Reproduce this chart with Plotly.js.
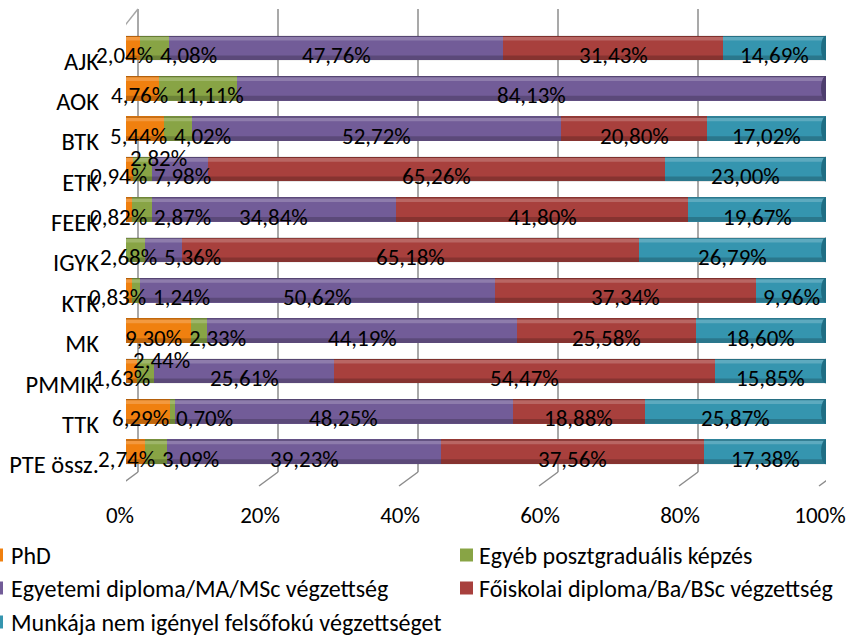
<!DOCTYPE html>
<html><head><meta charset="utf-8">
<script src="https://cdn.plot.ly/plotly-3.0.1.min.js"></script>
<style>html,body{margin:0;padding:0;background:#fff;}#chart{width:846px;height:637px;}</style>
</head><body><div id="chart"></div>
<script>
const categories = ['AJK','AOK','BTK','ETK','FEEK','IGYK','KTK','MK','PMMIK','TTK','PTE össz.'];
const seriesNames = ['PhD','Egyéb posztgraduális képzés','Egyetemi diploma/MA/MSc végzettség','Főiskolai diploma/Ba/BSc végzettség','Munkája nem igényel felsőfokú végzettséget'];
const phd       = [2.04, 4.76, 5.44, 0.94, 0.82, 0,    0.83, 9.30, 1.63, 6.29, 2.74];
const egyeb     = [4.08, 11.11,4.02, 2.82, 2.87, 2.68, 1.24, 2.33, 2.44, 0.70, 3.09];
const egyetemi  = [47.76,84.13,52.72,7.98, 34.84,5.36, 50.62,44.19,25.61,48.25,39.23];
const foiskolai = [31.43,0,    20.80,65.26,41.80,65.18,37.34,25.58,54.47,18.88,37.56];
const munkaja   = [14.69,0,    17.02,23.00,19.67,26.79,9.96, 18.60,15.85,25.87,17.38];
const xTicks = [0,20,40,60,80,100];
const xTickText = ['0%','20%','40%','60%','80%','100%'];

const series = [phd, egyeb, egyetemi, foiskolai, munkaja];
const colors = ['#F0800F','#88A445','#725C98','#A8403D','#3595AF'];
const capColors = ['#B85F08','#647A30','#4E3E6E','#7A2C2A','#1F6E84'];
const FONT = 'Carlito, Calibri, Lato, sans-serif';
const LABEL_SIZE = 23;
const CHAR_W = 11.6;
const GAP = 6;

const W = 846, H = 637;
const M = {l:126, r:20, t:25, b:165};
const PW = W - M.l - M.r, PH = H - M.t - M.b;
const pxX = px => (px - M.l) / PW;
const pxY = py => (H - M.b - py) / PH;

const traces = series.map((vals, i) => ({
  type: 'bar', orientation: 'h', name: seriesNames[i],
  y: categories, x: vals,
  marker: {color: colors[i], line: {width: 0}},
  hoverinfo: 'x+name', showlegend: false
}));

const shapes = [];
const annotations = [];
const gridColor = '#8C8C8C';
xTicks.forEach(t => {
  shapes.push({type:'line', xref:'x', xsizemode:'pixel', xanchor:t, x0:12, x1:12,
    yref:'paper', y0:0, y1:pxY(9), line:{color:gridColor, width:1.5}, layer:'below'});
  shapes.push({type:'line', xref:'x', xsizemode:'pixel', xanchor:t, x0:12, x1:-7,
    yref:'paper', y0:0, y1:pxY(486), line:{color:gridColor, width:1.5}, layer:'below'});
});
shapes.push({type:'line', xref:'x', xsizemode:'pixel', xanchor:0, x0:-7, x1:-7,
  yref:'paper', y0:pxY(33), y1:pxY(486), line:{color:'#A6A6A6', width:1.5}, layer:'below'});
shapes.push({type:'line', xref:'x', xsizemode:'pixel', xanchor:0, x0:-7, x1:12,
  yref:'paper', y0:pxY(33), y1:pxY(9), line:{color:'#A6A6A6', width:1.5}, layer:'below'});

const half = 0.305;
const unit = PW / 100;
const fmt = v => v.toFixed(2).replace('.', ',') + '%';
categories.forEach((c, i) => {
  shapes.push({type:'rect', xref:'x', x0:0, x1:100, yref:'y', y0:i-half, y1:i-half+0.03,
    fillcolor:'rgba(0,0,0,0.25)', line:{width:0}, layer:'above'});
  shapes.push({type:'rect', xref:'x', x0:0, x1:100, yref:'y', y0:i-half+0.03, y1:i-half+0.12,
    fillcolor:'rgba(255,255,255,0.2)', line:{width:0}, layer:'above'});
  shapes.push({type:'rect', xref:'x', x0:0, x1:100, yref:'y', y0:i+half-0.12, y1:i+half,
    fillcolor:'rgba(0,0,0,0.2)', line:{width:0}, layer:'above'});
  let last = 0;
  series.forEach((s, k) => { if (s[i] > 0) last = k; });
  shapes.push({type:'circle', xref:'x', xsizemode:'pixel', xanchor:100, x0:-5, x1:5,
    yref:'y', y0:i-half, y1:i+half, fillcolor:capColors[last], line:{width:0}, layer:'above'});

  // label layout: natural centres from the stacked values, then resolve overlaps
  const items = [];
  let cum = 0;
  series.forEach((s, k) => {
    const v = s[i];
    if (v > 0) {
      const txt = fmt(v);
      items.push({txt, w: txt.length * CHAR_W, center: M.l + (cum + v/2) * unit, above: false, first: items.length === 0});
    }
    cum += v;
  });
  let prev = null;
  items.forEach((it, j) => {
    if (prev && it.center - it.w/2 < prev.center + prev.w/2 + GAP) {
      const natural = it.center;
      const overlap = prev.center + prev.w/2 + GAP - (it.center - it.w/2);
      if (prev.first) prev.center -= overlap * 0.2;
      const cand = prev.center + prev.w/2 + GAP + it.w/2;
      const nxt = items[j+1];
      if (nxt && cand + it.w/2 > nxt.center - nxt.w/2) {
        it.above = true;
        it.center = natural + 0.4 * (cand - natural);
      } else {
        it.center = cand;
      }
    }
    if (!it.above) prev = it;
  });
  items.forEach(it => {
    annotations.push({xref:'paper', yref:'y', x:pxX(it.center), y:i, xanchor:'center', yanchor:'middle',
      text:it.txt, showarrow:false,
      yshift: it.above ? 11 : -7, font:{family:FONT, size:LABEL_SIZE, color:'#000'}});
  });
});

const legendRows = [555, 555, 588, 588, 622];
seriesNames.forEach((n, i) => {
  const ly = legendRows[i];
  const right = i % 2 === 1;
  const sx = right ? 460 : -10;
  shapes.push({type:'rect', xref:'paper', yref:'paper', x0:pxX(sx), x1:pxX(sx+13),
    y0:pxY(ly+6.5), y1:pxY(ly-6.5), fillcolor:colors[i], line:{width:0}});
  annotations.push({xref:'paper', yref:'paper', x:pxX(right ? 477 : 9), y:pxY(ly),
    xanchor:'left', yanchor:'middle', text:n, showarrow:false,
    font:{family:FONT, size:24, color:'#000'}});
});

const layout = {
  width: W, height: H, margin: M,
  paper_bgcolor:'#fff', plot_bgcolor:'rgba(0,0,0,0)',
  barmode:'stack', bargap:0.39, showlegend:false,
  font:{family:FONT, color:'#000'},
  xaxis:{range:[0,100], tickvals:xTicks, ticktext:xTickText, showgrid:false, zeroline:false,
    showline:false, ticks:'', ticklabelstandoff:27, ticklabelshift:-6, ticklabeloverflow:'allow',
    tickfont:{family:FONT, size:23, color:'#000'}, fixedrange:true},
  yaxis:{type:'category', autorange:'reversed', showgrid:false, zeroline:false, showline:false,
    ticks:'', ticklabelstandoff:26, ticklabelshift:-13,
    tickfont:{family:FONT, size:24.5, color:'#000'}, fixedrange:true},
  shapes, annotations
};
Plotly.newPlot('chart', traces, layout, {displayModeBar:false, staticPlot:true});
</script></body></html>
